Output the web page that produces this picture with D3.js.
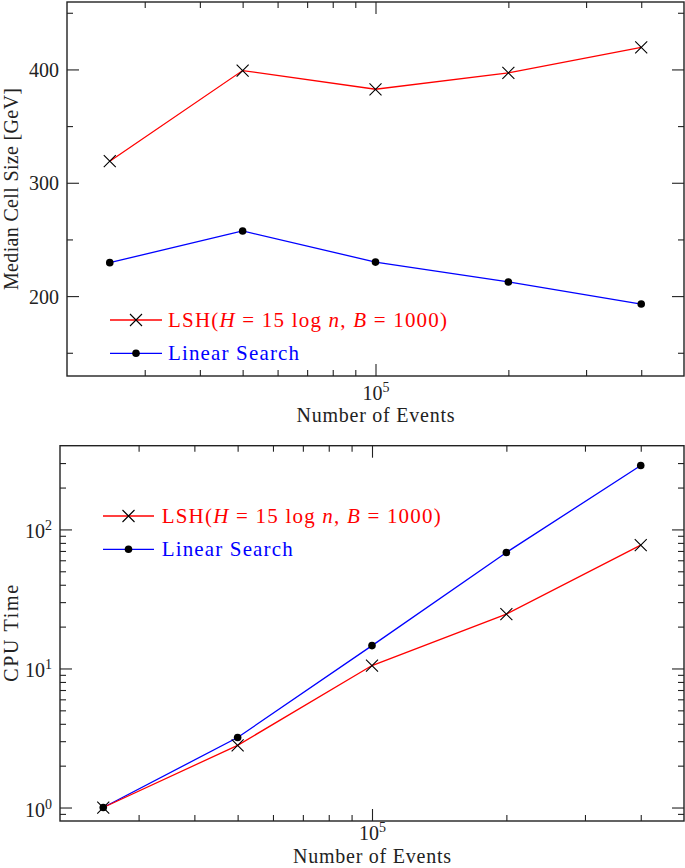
<!DOCTYPE html>
<html><head><meta charset="utf-8">
<script src="https://cdn.jsdelivr.net/npm/d3@7"></script>
<style>body{margin:0;background:#fff}text{font-family:"Liberation Serif",serif;white-space:pre}</style>
</head><body>
<svg id="c" width="685" height="868"></svg>
<script>
// ---- data ----
const events = [25000, 50000, 100000, 200000, 400000];
const cellLSH = [319, 399, 382.5, 397, 419.5];
const cellLinear = [229.5, 257.5, 230, 212.5, 193];
const cpuLSH = [1.0, 2.8, 10.5, 24.6, 77];
const cpuLinear = [1.0, 3.19, 14.6, 68.3, 288];
const xMajorTicks = [1e5];
const xMinorTicks = [3e4, 4e4, 5e4, 6e4, 7e4, 8e4, 9e4, 2e5, 3e5, 4e5];
const cellMajorTicks = [200, 300, 400];
const cellMinorTicks = [150, 250, 350, 450];
const cpuMajorTicks = [1, 10, 100];
const cpuMinorTicks = [0.9, 2, 3, 4, 5, 6, 7, 8, 9, 20, 30, 40, 50, 60, 70, 80, 90, 200, 300];
const seriesNames = ["LSH", "Linear Search"];
const xLabel = "Number of Events";
const cellYLabel = "Median Cell Size [GeV]";
const cpuYLabel = "CPU Time";

const svg = d3.select("#c");
const INK = "#222";

function addPow(sel, base, exp) {
  sel.text(null);
  sel.append("tspan").text(base);
  sel.append("tspan").attr("font-size", 14).attr("dy", -8).text(exp);
}

function panel(cfg) {
  const {L, R, T, B} = cfg;
  const x = d3.scaleLog().domain([2e4, 5e5]).range([L, R]);
  const y = cfg.y;
  const g = svg.append("g");

  const mk = (axisFn, scale, vals, size, pos, labels) => {
    const a = axisFn(scale).tickValues(vals).tickSizeInner(-size).tickSizeOuter(0).tickPadding(8);
    if (!labels) a.tickFormat("");
    const ag = g.append("g").attr("transform", pos).call(a);
    ag.select(".domain").remove();
    ag.selectAll("line").attr("stroke", INK).attr("stroke-width", 1.1);
    ag.selectAll("text").attr("fill", INK).attr("font-size", 20).attr("font-family", "Liberation Serif");
    return ag;
  };
  const xb = mk(d3.axisBottom, x, xMajorTicks, 12, `translate(0,${B})`, true);
  xb.selectAll("text").attr("dy", null).attr("y", cfg.xTickBase).each(function(){ addPow(d3.select(this), "10", "5"); });
  mk(d3.axisBottom, x, xMinorTicks, 6, `translate(0,${B})`, false);
  mk(d3.axisTop, x, xMajorTicks, 12, `translate(0,${T})`, false);
  mk(d3.axisTop, x, xMinorTicks, 6, `translate(0,${T})`, false);
  const yl = mk(d3.axisLeft, y, cfg.yMajor, 12, `translate(${L},0)`, true);
  yl.selectAll("text").attr("dy", null).attr("y", cfg.yTickDy);
  if (cfg.logY) yl.selectAll("text").each(function(d){ addPow(d3.select(this), "10", String(Math.round(Math.log10(d)))); });
  mk(d3.axisLeft, y, cfg.yMinor, 6, `translate(${L},0)`, false);
  mk(d3.axisRight, y, cfg.yMajor, 12, `translate(${R},0)`, false);
  mk(d3.axisRight, y, cfg.yMinor, 6, `translate(${R},0)`, false);

  g.append("rect").attr("x", L).attr("y", T).attr("width", R - L).attr("height", B - T)
    .attr("fill", "none").attr("stroke", INK).attr("stroke-width", 1.4);

  g.append("text").attr("x", (L + R) / 2).attr("y", cfg.xLabelY).attr("text-anchor", "middle")
    .attr("font-size", 20).attr("fill", INK).attr("textLength", 158).attr("lengthAdjust", "spacing").text(xLabel);
  g.append("text").attr("transform", `translate(18,${(T + B) / 2}) rotate(-90)`).attr("text-anchor", "middle")
    .attr("font-size", 20).attr("fill", INK).attr("textLength", cfg.yLabelLen).attr("lengthAdjust", "spacing").text(cfg.yLabel);

  const line = d3.line().x(d => x(d[0])).y(d => y(d[1]));
  const sLSH = events.map((e, i) => [e, cfg.lsh[i]]);
  const sLin = events.map((e, i) => [e, cfg.lin[i]]);
  g.append("path").datum(sLin).attr("d", line).attr("fill", "none").attr("stroke", "#0000ff").attr("stroke-width", 1.3);
  g.append("path").datum(sLSH).attr("d", line).attr("fill", "none").attr("stroke", "#ff0000").attr("stroke-width", 1.3);
  const cross = (sel, cx, cy) => sel.append("path")
    .attr("d", `M${cx-6},${cy-6}L${cx+6},${cy+6}M${cx-6},${cy+6}L${cx+6},${cy-6}`)
    .attr("stroke", "#000").attr("stroke-width", 1.1).attr("fill", "none");
  sLSH.forEach(d => cross(g, x(d[0]), y(d[1])));
  g.selectAll(null).data(sLin).enter().append("circle")
    .attr("cx", d => x(d[0])).attr("cy", d => y(d[1])).attr("r", 3.8).attr("fill", "#000");

  const lg = cfg.legend;
  g.append("line").attr("x1", lg.x0).attr("x2", lg.x1).attr("y1", lg.y0).attr("y2", lg.y0).attr("stroke", "#ff0000").attr("stroke-width", 1.3);
  cross(g, (lg.x0 + lg.x1) / 2, lg.y0);
  g.append("line").attr("x1", lg.x0).attr("x2", lg.x1).attr("y1", lg.y1).attr("y2", lg.y1).attr("stroke", "#0000ff").attr("stroke-width", 1.3);
  g.append("circle").attr("cx", (lg.x0 + lg.x1) / 2).attr("cy", lg.y1).attr("r", 3.8).attr("fill", "#000");
  const t1 = g.append("text").attr("x", lg.tx).attr("y", lg.y0 + 7).attr("font-size", 21).attr("fill", "#ff0000")
    .attr("textLength", 279).attr("lengthAdjust", "spacing");
  t1.append("tspan").text(seriesNames[0] + "(");
  t1.append("tspan").attr("font-style", "italic").text("H");
  t1.append("tspan").text(" = 15 log ");
  t1.append("tspan").attr("font-style", "italic").text("n");
  t1.append("tspan").text(", ");
  t1.append("tspan").attr("font-style", "italic").text("B");
  t1.append("tspan").text(" = 1000)");
  g.append("text").attr("x", lg.tx).attr("y", lg.y1 + 7).attr("font-size", 21).attr("fill", "#0000ff")
    .attr("textLength", 131).attr("lengthAdjust", "spacing").text(seriesNames[1]);
}

panel({
  L: 67, R: 684, T: 2, B: 376,
  y: d3.scaleLinear().domain([129.5, 459.5]).range([376, 2]),
  yMajor: cellMajorTicks, yMinor: cellMinorTicks, logY: false, yTickDy: 7,
  xTickBase: 24, xLabelY: 422, yLabel: cellYLabel, yLabelLen: 202,
  lsh: cellLSH, lin: cellLinear,
  legend: {x0: 110, x1: 162, y0: 320, y1: 353.3, tx: 168}
});
panel({
  L: 60, R: 684, T: 445.7, B: 821,
  y: d3.scaleLog().domain([0.8, 400]).range([821, 445.7]),
  yMajor: cpuMajorTicks, yMinor: cpuMinorTicks, logY: true, yTickDy: 8.5,
  xTickBase: 19, xLabelY: 863, yLabel: cpuYLabel, yLabelLen: 97,
  lsh: cpuLSH, lin: cpuLinear,
  legend: {x0: 103, x1: 154, y0: 516, y1: 549.3, tx: 161.7}
});
</script>
</body></html>
